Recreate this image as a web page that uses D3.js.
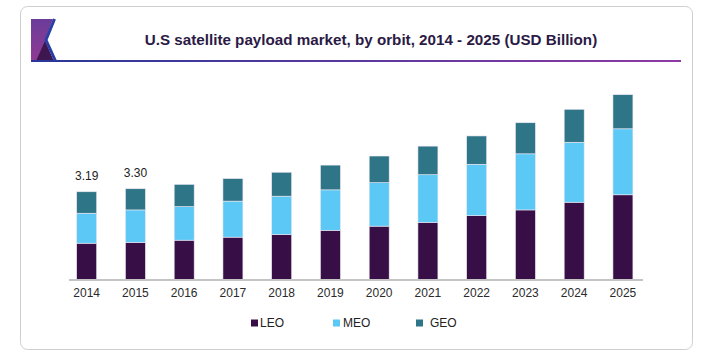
<!DOCTYPE html>
<html>
<head>
<meta charset="utf-8">
<script src="https://cdn.jsdelivr.net/npm/d3@7"></script>
<style>
html,body{margin:0;padding:0;background:#fff;}
svg{display:block;}
text{font-family:"Liberation Sans",Arial,Helvetica,sans-serif;}
</style>
</head>
<body>
<svg id="chart" width="706" height="354"></svg>
<script>
const years = ["2014","2015","2016","2017","2018","2019","2020","2021","2022","2023","2024","2025"];
const leo = [1.32,1.35,1.43,1.54,1.64,1.79,1.94,2.08,2.32,2.53,2.81,3.08];
const meo = [1.09,1.18,1.22,1.31,1.39,1.47,1.58,1.73,1.87,2.04,2.18,2.40];
const geo = [0.78,0.77,0.81,0.82,0.87,0.90,0.97,1.04,1.03,1.13,1.20,1.24];
const seriesNames = ["LEO","MEO","GEO"];
const seriesColors = ["#370f46","#5bc8f5","#2e7587"];
const labelled = {"2014":"3.19","2015":"3.30"};
const title = "U.S satellite payload market, by orbit, 2014 - 2025 (USD Billion)";

const svg = d3.select("#chart");
const defs = svg.append("defs");
const grad = defs.append("linearGradient").attr("id","lineGrad").attr("x1","0%").attr("x2","100%");
grad.append("stop").attr("offset","0%").attr("stop-color","#27379a");
grad.append("stop").attr("offset","100%").attr("stop-color","#8e3aa3");
const lg = defs.append("linearGradient").attr("id","logoGrad").attr("x1","0%").attr("y1","0%").attr("x2","0%").attr("y2","100%");
lg.append("stop").attr("offset","0%").attr("stop-color","#6b3c9a");
lg.append("stop").attr("offset","100%").attr("stop-color","#8f3a93");

// card
svg.append("rect").attr("x",20.5).attr("y",6.5).attr("width",672).attr("height",343)
  .attr("rx",7).attr("fill","#fff").attr("stroke","#cfcfcf").attr("stroke-width",1);

// logo
svg.append("polygon").attr("points","31,19 53,19 45,40 53,61 31,61").attr("fill","url(#logoGrad)");
svg.append("polygon").attr("points","45,41 36,61 54,61").attr("fill","#3e1650");
svg.append("polyline").attr("points","54.5,19 46,40 55.5,61").attr("fill","none").attr("stroke","#2a3fa3").attr("stroke-width",3);
svg.append("rect").attr("x",31).attr("y",60).attr("width",650).attr("height",2).attr("fill","url(#lineGrad)");

// title
svg.append("text").attr("x",371).attr("y",45).attr("text-anchor","middle")
  .attr("font-size",15.2).attr("font-weight","bold").attr("fill","#2b1a45").text(title);

// data
const data = years.map((y,i)=>({year:y, LEO:leo[i], MEO:meo[i], GEO:geo[i]}));
const stack = d3.stack().keys(seriesNames)(data);

const x = d3.scaleBand().domain(years).range([62.3,647.3]).paddingInner(0.59).paddingOuter(0.295);
const yS = d3.scaleLinear().domain([0,7]).range([279.5,279.5-7*27.5]);
const color = d3.scaleOrdinal().domain(seriesNames).range(seriesColors);

svg.append("g").selectAll("g").data(stack).join("g")
  .attr("fill",d=>color(d.key))
  .selectAll("rect").data(d=>d).join("rect")
  .attr("x",d=>x(d.data.year)).attr("width",x.bandwidth())
  .attr("y",d=>yS(d[1])).attr("height",d=>yS(d[0])-yS(d[1]))
  .attr("stroke","#efe8f3").attr("stroke-width",0.6);

// axis
const axis = svg.append("g").attr("transform","translate(0,280)").call(d3.axisBottom(x).tickSize(0).tickPadding(8));
axis.select(".domain").remove();
axis.selectAll("text").attr("font-size",12).attr("fill","#2a2a2a").style("font-family","'Liberation Sans',Arial,sans-serif");
svg.append("line").attr("x1",69).attr("x2",643).attr("y1",280).attr("y2",280).attr("stroke","#c4c4c4").attr("stroke-width",2);

// labels
svg.append("g").selectAll("text").data(data.filter(d=>labelled[d.year])).join("text")
  .attr("x",d=>x(d.year)+x.bandwidth()/2).attr("y",d=>yS(d.LEO+d.MEO+d.GEO)-12)
  .attr("text-anchor","middle").attr("font-size",12).attr("fill","#222").text(d=>labelled[d.year]);

// legend
const legendPos = [251,333,416];
const legendTextX = [260,343,430];
const leg = svg.append("g");
seriesNames.forEach((n,i)=>{
  leg.append("rect").attr("x",legendPos[i]).attr("y",319.5).attr("width",7).attr("height",7).attr("fill",seriesColors[i]);
  leg.append("text").attr("x",legendTextX[i]).attr("y",327).attr("font-size",12).attr("fill","#222").text(n);
});
</script>
</body>
</html>
